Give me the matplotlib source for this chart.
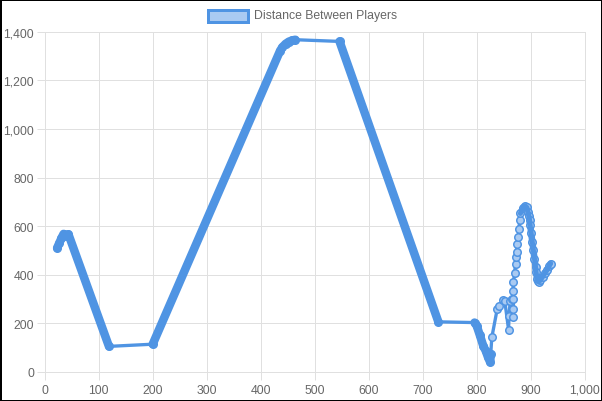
import matplotlib
matplotlib.use("Agg")
import numpy as np
import matplotlib.pyplot as plt
from matplotlib.patches import Rectangle
from matplotlib.ticker import FuncFormatter, MultipleLocator

# distance between players
dist_x = [23, 27, 31, 35, 39, 44, 119, 200, 436, 440, 446, 452, 458, 464,
          546, 729, 796, 800, 806, 812, 817, 821, 825, 826, 828, 838, 842,
          849, 852, 859, 860, 862, 865, 867, 868, 868, 867, 868, 870, 872,
          873, 874, 875, 877, 878, 880, 881, 885, 889, 893, 895, 897, 898,
          899, 901, 903, 905, 907, 909, 910, 912, 913, 915, 918, 922, 926,
          930, 934, 937]
dist_y = [510, 530, 550, 568, 560, 566, 105, 114, 1322, 1336, 1350, 1359,
          1364, 1367, 1360, 206, 203, 190, 150, 108, 85, 60, 40, 74, 142,
          259, 272, 297, 292, 174, 231, 293, 300, 225, 259, 300, 334, 369,
          405, 446, 474, 494, 528, 556, 590, 625, 652, 673, 683, 677, 659,
          640, 625, 605, 570, 535, 501, 466, 432, 410, 384, 376, 370, 378,
          391, 405, 418, 435, 446]
# stretches where the samples are packed so tight they merge into a band
dense_runs = [(23, 119), (200, 464), (546, 729), (796, 826)]
packed_runs = [(881, 937)]

series_name = "Distance Between Players"

blue = "#4f94e3"
light = "#a9caf2"
grid_c = "#e0e0e0"
text_c = "#666666"
px = 0.72  # points per pixel at dpi 100

plt.rcParams["font.family"] = ["Liberation Sans", "DejaVu Sans"]

fig = plt.figure(figsize=(6.02, 4.02), dpi=100)
ax = fig.add_axes([44.7 / 602, (402 - 372.9) / 402, 540 / 602, 340.2 / 402])

xs = np.array(dist_x)
ys = np.array(dist_y)
ax.plot(xs, ys, color=blue, lw=3.3 * px, solid_joinstyle="round",
        solid_capstyle="round", zorder=3)
for lo, hi in packed_runs:
    m = (xs >= lo) & (xs <= hi)
    ax.plot(xs[m], ys[m], color=blue, lw=6.5 * px, solid_joinstyle="round",
            solid_capstyle="round", zorder=3)
ax.plot(xs, ys, ls="none", marker="o", ms=7.5 * px, mfc=light, mec=blue,
        mew=1.5 * px, zorder=4)
for lo, hi in packed_runs:
    m = (xs >= lo) & (xs <= hi)
    ax.plot(xs[m], ys[m], color=blue, lw=5 * px, solid_joinstyle="round",
            solid_capstyle="round", zorder=4.5)
for lo, hi in dense_runs:
    m = (xs >= lo) & (xs <= hi)
    ax.plot(xs[m], ys[m], color=blue, lw=8.5 * px, solid_joinstyle="round",
            solid_capstyle="round", zorder=5)

ax.set_xlim(0, 1000)
ax.set_ylim(0, 1400)
ax.xaxis.set_major_locator(MultipleLocator(100))
ax.yaxis.set_major_locator(MultipleLocator(200))
fmt = FuncFormatter(lambda v, p: f"{int(v):,}")
ax.xaxis.set_major_formatter(fmt)
ax.yaxis.set_major_formatter(fmt)
ax.grid(True, color=grid_c, lw=1 * px, zorder=0)
for s in ax.spines.values():
    s.set_color(grid_c)
    s.set_linewidth(1 * px)
ax.tick_params(length=8 * px, width=1 * px, color=grid_c, labelcolor=text_c,
               labelsize=8.8)
ax.tick_params(axis="y", pad=2.5 * px)
ax.tick_params(axis="x", pad=4 * px)

# legend drawn by hand, centred over the canvas like the original
fig.patches.append(Rectangle((207.5 / 602, 1 - 23 / 402), 40 / 602, 12 / 402,
                             transform=fig.transFigure, facecolor=light,
                             edgecolor=blue, lw=3 * px))
fig.text(253.5 / 602, 1 - 16 / 402, series_name, color=text_c, fontsize=8.8,
         va="center", ha="left")

# screenshot frame
fig.patches.append(Rectangle((0, 0), 1, 1, transform=fig.transFigure,
                             fill=False, edgecolor="black", lw=3 * px))

fig.savefig("out.png", dpi=100)
